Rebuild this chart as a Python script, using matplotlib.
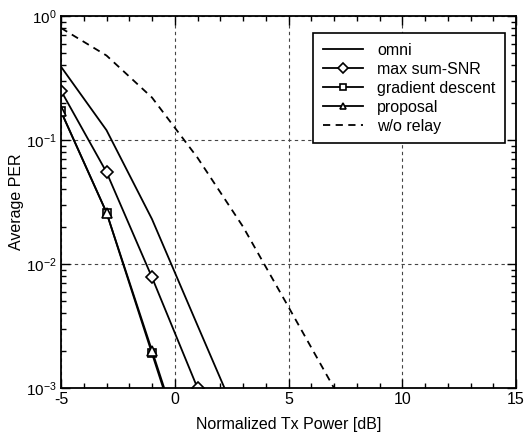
import matplotlib
matplotlib.use("Agg")
import matplotlib.pyplot as plt
from matplotlib.ticker import LogLocator, MultipleLocator, NullFormatter

plt.rcParams['font.family'] = ['Liberation Sans', 'DejaVu Sans']

x = [-5, -3, -1, 1, 3]
omni = [0.39, 0.12, 0.023, 0.0032, 0.00045]
x_ms = [-5, -3, -1, 1, 3]
maxsnr = [0.25, 0.055, 0.0078, 0.001, 0.00012]
x_gd = [-5, -3, -1, 1]
grad = [0.17, 0.026, 0.0019, 0.00014]
prop = [0.17, 0.026, 0.002, 0.00015]
x_wo = [-5, -3, -1, 1, 3, 5, 7]
wo = [0.8, 0.48, 0.22, 0.072, 0.02, 0.0045, 0.001]

xticks = [-5, 0, 5, 10, 15]

fig = plt.figure(figsize=(5.26, 4.34), dpi=100)
ax = fig.add_axes([61/526, 1 - 388/434, (516-61)/526, (388-16)/434])

lw = 1.3
ax.plot(x, omni, '-', color='black', lw=lw, label='omni')
ax.plot(x_ms, maxsnr, '-', color='black', lw=lw, marker='D', ms=6.5,
        mfc='white', mec='black', mew=1.2, label='max sum-SNR')
ax.plot(x_gd, grad, '-', color='black', lw=lw, marker='s', ms=6,
        mfc='white', mec='black', mew=1.2, label='gradient descent')
ax.plot(x_gd, prop, '-', color='black', lw=lw, marker='^', ms=6.5,
        mfc='white', mec='black', mew=1.2, label='proposal')
ax.plot(x_wo, wo, '--', color='black', lw=lw, dashes=(4, 3), label='w/o relay')

ax.set_yscale('log')
ax.set_xlim(-5, 15)
ax.set_ylim(1e-3, 1)
ax.set_xticks(xticks)
ax.set_xticklabels([str(t) for t in xticks])
ax.xaxis.set_minor_locator(MultipleLocator(1))
ax.yaxis.set_minor_locator(LogLocator(base=10, subs=range(2, 10)))
ax.yaxis.set_minor_formatter(NullFormatter())

ax.tick_params(which='both', direction='in', top=True, right=True, labelsize=11.5, pad=3)
ax.tick_params(axis='y', labelsize=11)
ax.tick_params(which='major', length=6.5, width=1)
ax.tick_params(which='minor', length=3.5, width=1)
ax.grid(True, which='major', ls=(0, (3, 3)), color='#444444', lw=0.8)
for s in ax.spines.values():
    s.set_linewidth(1.3)

ax.set_xlabel('Normalized Tx Power [dB]', fontsize=11.5, labelpad=7)
ax.set_ylabel('Average PER', fontsize=11.5)
ax.yaxis.set_label_coords(-0.081, 0.5)

leg = ax.legend(loc='upper left', bbox_to_anchor=((313-61)/455, (388-33)/372), fontsize=11.5,
                frameon=True, fancybox=False, edgecolor='black', framealpha=1,
                handlelength=2.5, borderpad=0.6, labelspacing=0.25, handletextpad=0.9,
                borderaxespad=0)
leg.get_frame().set_linewidth(1.2)
for h in leg.legend_handles:
    try:
        h.set_markersize(5)
    except Exception:
        pass

fig.savefig('out.png', dpi=100)
